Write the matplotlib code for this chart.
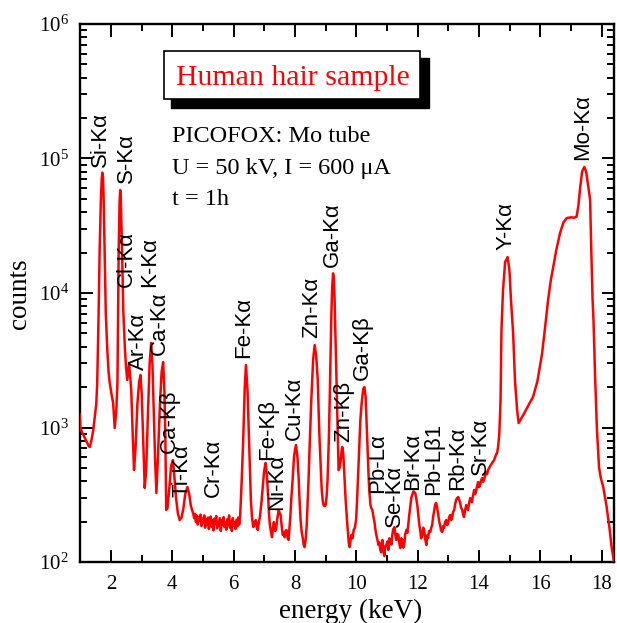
import matplotlib
matplotlib.use("Agg")
import matplotlib.pyplot as plt
from matplotlib.ticker import MultipleLocator, LogLocator, NullFormatter
from matplotlib.patches import Rectangle

plt.rcParams['font.family'] = ['Liberation Serif', 'DejaVu Serif']
plt.rcParams['mathtext.fontset'] = 'custom'
plt.rcParams['mathtext.rm'] = 'Liberation Serif'
plt.rcParams['mathtext.it'] = 'Liberation Serif:italic'

# ---- spectrum (energy in keV, counts) ----
energy = [
    0.98, 1.00, 1.05, 1.12, 1.20, 1.27, 1.31, 1.36, 1.42, 1.47, 1.52, 1.55, 1.59, 1.63, 1.67, 1.70,
    1.72, 1.74, 1.76, 1.79, 1.83, 1.88, 1.92, 1.96, 2.02, 2.07, 2.12, 2.17, 2.21, 2.25, 2.28, 2.30,
    2.32, 2.36, 2.40, 2.45, 2.49, 2.53, 2.59, 2.66, 2.70, 2.75, 2.80, 2.86, 2.92, 2.96, 3.00, 3.05,
    3.10, 3.15, 3.20, 3.26, 3.31, 3.35, 3.40, 3.44, 3.48, 3.53, 3.59, 3.65, 3.70, 3.74, 3.77, 3.80,
    3.84, 3.90, 3.96, 4.02, 4.07, 4.12, 4.18, 4.24, 4.30, 4.36, 4.42, 4.49, 4.55, 4.60, 4.65, 4.68,
    4.71, 4.74, 4.77, 4.80, 4.83, 4.86, 4.89, 4.92, 4.95, 4.98, 5.01, 5.04, 5.07, 5.10, 5.13, 5.16,
    5.19, 5.22, 5.25, 5.28, 5.31, 5.34, 5.37, 5.40, 5.43, 5.46, 5.49, 5.52, 5.55, 5.58, 5.61, 5.64,
    5.67, 5.70, 5.73, 5.76, 5.79, 5.82, 5.85, 5.88, 5.91, 5.94, 5.97, 6.00, 6.03, 6.06, 6.09, 6.12,
    6.15, 6.18,
    6.21, 6.26, 6.31, 6.36, 6.40, 6.45, 6.50, 6.56, 6.60, 6.64, 6.68, 6.72, 6.76, 6.79, 6.82, 6.85,
    6.90, 6.94, 6.99, 7.04, 7.08, 7.12, 7.15, 7.18, 7.22, 7.25, 7.28, 7.31, 7.35, 7.38, 7.42, 7.47,
    7.50, 7.53, 7.57, 7.60, 7.63, 7.66, 7.69, 7.72, 7.76, 7.79, 7.82, 7.85, 7.88, 7.92, 7.97, 8.03,
    8.08, 8.12, 8.15, 8.18, 8.22, 8.25, 8.28, 8.31, 8.35, 8.38, 8.41, 8.44, 8.49, 8.53, 8.59, 8.64,
    8.69, 8.74, 8.77, 8.80, 8.84, 8.87, 8.90, 8.93, 8.97, 9.00, 9.03, 9.06, 9.10, 9.13, 9.16, 9.18,
    9.21, 9.24, 9.27, 9.29, 9.32, 9.36, 9.39, 9.42, 9.45, 9.49, 9.52, 9.54, 9.57, 9.60, 9.63, 9.65,
    9.69, 9.72, 9.75, 9.78, 9.81, 9.84, 9.88, 9.91, 9.95, 9.99, 10.02, 10.05, 10.09, 10.13, 10.17, 10.20,
    10.23, 10.26, 10.30, 10.33, 10.36, 10.39, 10.42, 10.46, 10.49, 10.52, 10.56, 10.59, 10.62, 10.65, 10.69, 10.72,
    10.75, 10.78, 10.81, 10.85, 10.88, 10.91, 10.94, 10.98, 11.01, 11.04, 11.07, 11.11, 11.14, 11.17, 11.20, 11.24,
    11.27, 11.30, 11.33, 11.37, 11.40, 11.43, 11.46, 11.50, 11.53, 11.56, 11.59, 11.63, 11.66, 11.69, 11.72, 11.76,
    11.79, 11.82, 11.86, 11.89, 11.92, 11.95, 11.99, 12.02, 12.05, 12.08, 12.11, 12.15, 12.18, 12.21, 12.24, 12.28,
    12.31, 12.34, 12.37, 12.41, 12.44, 12.47, 12.50, 12.54, 12.57, 12.60, 12.63, 12.67, 12.70, 12.73, 12.76, 12.80,
    12.83, 12.86, 12.89, 12.93, 12.96, 12.99, 13.02, 13.06, 13.09, 13.12, 13.15, 13.19, 13.22, 13.25, 13.28, 13.32,
    13.35, 13.38, 13.41, 13.45, 13.48, 13.51, 13.54, 13.58, 13.61, 13.64, 13.67, 13.71, 13.74, 13.77, 13.80, 13.84,
    13.87, 13.90, 13.93, 13.97, 14.00, 14.03, 14.06, 14.10, 14.13, 14.16, 14.20, 14.23, 14.26, 14.29, 14.33, 14.36,
    14.39, 14.42, 14.46, 14.49, 14.52, 14.55, 14.59, 14.62, 14.66, 14.70, 14.73, 14.78, 14.85, 14.93, 14.99, 15.04,
    15.11, 15.17, 15.24, 15.29, 15.45, 15.60, 15.76, 15.90, 16.05, 16.15, 16.25, 16.34, 16.42, 16.52, 16.64, 16.75,
    16.86, 17.00, 17.10, 17.18, 17.24, 17.30, 17.36, 17.43, 17.49, 17.56, 17.62, 17.66, 17.70, 17.73, 17.78, 17.84,
    17.91, 17.97, 18.05, 18.16, 18.25, 18.32, 18.39, 18.42,
]
counts = [
    1250, 1000, 930, 860, 790, 730, 716, 800, 950, 1197, 1500, 2140, 6000, 20900, 50000, 72000,
    78400, 72000, 50000, 20900, 7000, 3770, 2600, 2140, 1750, 1520, 991, 1300, 2140, 20900, 48000, 58300,
    50000, 20900, 7500, 3970, 2800, 2256, 3020, 1900, 1000, 483, 700, 1500, 2200, 2457, 1800, 800,
    355, 500, 1200, 3000, 4250, 3000, 1200, 550, 326, 600, 1400, 2600, 3070, 1900, 900, 244,
    250, 350, 520, 573, 420, 300, 230, 205, 215, 250, 320, 361, 320, 265, 240, 230,
    212, 228, 198, 221, 190, 215, 203, 225, 185, 210, 196, 222, 180, 208, 190, 214,
    176, 200, 218, 183, 205, 172, 210, 192, 220, 178, 198, 186, 212, 170, 204, 190,
    216, 182, 196, 174, 208, 188, 222, 180, 200, 170, 212, 186, 198, 176, 206, 184,
    214, 190,
    220, 400, 808, 2000, 2915, 1900, 808, 289, 210, 182, 195, 205, 178, 173, 200, 212,
    270, 343, 470, 545, 450, 315, 230, 188, 165, 153, 180, 198, 170, 173, 210, 244,
    230, 224, 180, 159, 165, 153, 170, 173, 150, 146, 180, 224, 300, 407, 620, 741,
    600, 407, 280, 205, 165, 151, 135, 129, 150, 188, 280, 407, 900, 1600, 3200, 4100,
    3400, 2256, 1300, 808, 500, 343, 290, 265, 260, 265, 310, 407, 800, 1600, 3500, 6300,
    11000, 14000, 12500, 8870, 4500, 1900, 900, 483, 500, 573, 680, 716, 650, 483, 350, 289,
    210, 173, 140, 129, 145, 159, 150, 173, 180, 205, 280, 407, 700, 1137, 1500, 1745,
    1950, 2000, 1700, 1137, 750, 483, 340, 265, 250, 244, 215, 198, 175, 159, 145, 134,
    140, 123, 118, 146, 125, 111, 130, 134, 142, 123, 150, 146, 135, 159, 175, 182,
    160, 146, 162, 159, 138, 127, 150, 146, 128, 134, 160, 173, 165, 188, 220, 265,
    300, 315, 335, 331, 325, 299, 260, 224, 190, 173, 150, 159, 180, 173, 150, 134,
    158, 151, 170, 167, 180, 188, 215, 244, 268, 275, 255, 224, 200, 188, 172, 167,
    185, 179, 198, 205, 188, 192, 215, 224, 205, 212, 235, 244, 270, 289, 298, 304,
    290, 279, 255, 244, 225, 216, 240, 265, 250, 244, 270, 299, 285, 279, 310, 343,
    320, 331, 365, 393, 360, 373, 400, 421, 395, 407, 440, 467, 450, 483, 500, 517,
    530, 545, 560, 573, 600, 625, 650, 720, 900, 1600, 5300, 10500, 17000, 18500, 14800, 8870,
    5040, 2256, 1349, 1080, 1250, 1450, 1690, 2200, 3500, 5500, 8870, 12500, 15700, 21000, 27900, 33500,
    36100, 36500, 36300, 37000, 45000, 62000, 80000, 86500, 80000, 62000, 49100, 20000, 9000, 6300, 2500, 1000,
    508, 420, 360, 256, 180, 130, 103, 80,
]

# ---- peak labels ----
label_names = ["Si-K\u03b1", "S-K\u03b1", "Cl-K\u03b1", "K-K\u03b1", "Ar-K\u03b1", "Ca-K\u03b1",
               "Ca-K\u03b2", "Ti-K\u03b1", "Cr-K\u03b1", "Fe-K\u03b1", "Fe-K\u03b2", "Ni-K\u03b1",
               "Cu-K\u03b1", "Zn-K\u03b1", "Ga-K\u03b1", "Zn-K\u03b2", "Ga-K\u03b2", "Pb-L\u03b1",
               "Se-K\u03b1", "Br-K\u03b1", "Pb-L\u03b21", "Rb-K\u03b1", "Sr-K\u03b1", "Y-K\u03b1",
               "Mo-K\u03b1"]
label_x = [1.67, 2.52, 2.51, 3.26, 2.88, 3.58, 3.91, 4.31, 5.34, 6.34, 7.10, 7.40, 7.97, 8.54,
           9.22, 9.60, 10.20, 10.69, 11.24, 11.83, 12.53, 13.30, 14.06, 14.88, 17.37]
label_y = [86500, 65800, 11090, 11090, 2680, 3460, 646, 304, 304, 3290, 573, 244, 808, 4630,
           15600, 780, 2256, 326, 182, 343, 315, 343, 443, 20900, 97500]

title_text = "Human hair sample"
info_lines = ["PICOFOX: Mo tube", "U = 50 kV, I = 600 \u03bcA", "t = 1h"]

fig = plt.figure(figsize=(6.17, 6.23), dpi=100)
ax = fig.add_axes([0.1297, 0.0979, 0.8655, 0.8636])

ax.plot(energy, counts, color='#ff0000', lw=1.8, zorder=3)
ax.set_yscale('log')
ax.set_xlim(0.99, 18.4)
ax.set_ylim(1e2, 1e6)

ax.xaxis.set_major_locator(MultipleLocator(2))
ax.xaxis.set_minor_locator(MultipleLocator(1))
ax.yaxis.set_major_locator(LogLocator(base=10))
ax.yaxis.set_minor_locator(LogLocator(base=10, subs=range(2, 10)))
ax.yaxis.set_minor_formatter(NullFormatter())

ax.tick_params(which='both', direction='in', top=True, right=True, width=1.4, labelsize=15)
ax.tick_params(which='major', length=9)
ax.tick_params(which='minor', length=5)
ax.tick_params(axis='x', pad=9)
ax.tick_params(axis='y', pad=8)
for s in ax.spines.values():
    s.set_linewidth(1.7)

ax.set_xlabel("energy (keV)", fontsize=19.5)
ax.xaxis.set_label_coords(0.5066, -0.091)
ax.xaxis.label.set_va('center')
ax.set_ylabel("counts", fontsize=19.5)
ax.yaxis.set_label_coords(-0.114, 0.498)
ax.yaxis.label.set_va('center')

for name, lx, ly in zip(label_names, label_x, label_y):
    ax.text(lx, ly, name, rotation=90, ha='center', va='bottom', fontsize=16,
            family=['Liberation Sans', 'DejaVu Sans'], color='black', zorder=4)

# title box with drop shadow
ax.add_patch(Rectangle((0.1704, 0.8439), 0.4832, 0.0929, transform=ax.transAxes,
                       facecolor='black', edgecolor='black', zorder=5, clip_on=False))
ax.add_patch(Rectangle((0.1573, 0.8606), 0.4794, 0.0892, transform=ax.transAxes,
                       facecolor='white', edgecolor='black', lw=1.2, zorder=6, clip_on=False))
ax.text(0.398, 0.8866, title_text, transform=ax.transAxes, ha='center', va='baseline',
        fontsize=21.5, color='#ff0000', zorder=7)

for i, (line, yb) in enumerate(zip(info_lines, [0.7807, 0.7212, 0.6636])):
    ax.text(0.1723, yb, line, transform=ax.transAxes, ha='left', va='baseline',
            fontsize=17.5, color='black', zorder=7)

fig.savefig("out.png", dpi=100)
